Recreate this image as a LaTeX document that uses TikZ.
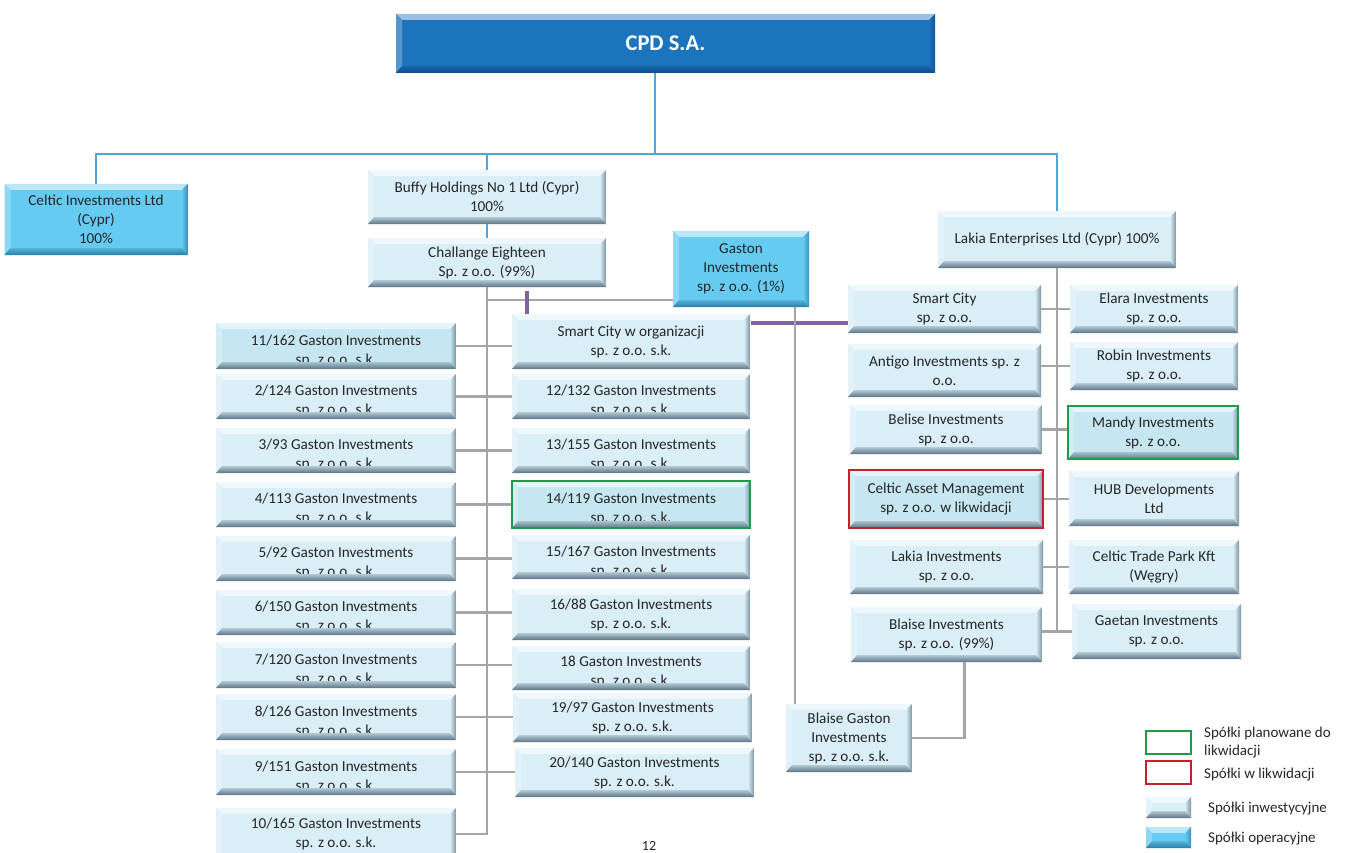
\documentclass[tikz,border=0pt]{standalone}
\usepackage{fontspec}
\setmainfont{Carlito}
\usetikzlibrary{calc}
\definecolor{ifill}{HTML}{D9EEF6}
\definecolor{ifillb}{HTML}{C6E7F2}
\definecolor{idark}{HTML}{5A7585}
\definecolor{ofill}{HTML}{66CBF1}
\definecolor{odark}{HTML}{2A7DA8}
\definecolor{cfill}{HTML}{1C75BC}
\definecolor{cdark}{HTML}{0D4A85}
\definecolor{bline}{HTML}{4FA6DC}
\definecolor{gline}{HTML}{A5A5A5}
\definecolor{pline}{HTML}{8064A2}
\definecolor{gborder}{HTML}{1E9A48}
\definecolor{rborder}{HTML}{C8202A}
\newcommand\bvw{6pt}
\newcommand\bvb{7pt}
\newcommand\bevel[2]{%
 \coordinate (pa) at (path picture bounding box.south west);
 \coordinate (pb) at (path picture bounding box.north east);
 \coordinate (pc) at (path picture bounding box.north west);
 \coordinate (pd) at (path picture bounding box.south east);
 \fill[white!55!#1] (pc) -- (pb) -- ($(pb)+(-\bvw,-\bvw)$) -- ($(pc)+(\bvw,-\bvw)$) -- cycle;
 \fill[white!25!#1] (pc) -- ($(pc)+(\bvw,-\bvw)$) -- ($(pa)+(\bvw,\bvb)$) -- (pa) -- cycle;
 \shade[left color=#1, right color=#2!75!#1] (pb) -- (pd) -- ($(pd)+(-\bvw,\bvb)$) -- ($(pb)+(-\bvw,-\bvw)$) -- cycle;
 \shade[top color=#1!70!#2, bottom color=#2] (pa) -- (pd) -- ($(pd)+(-\bvw,\bvb)$) -- ($(pa)+(\bvw,\bvb)$) -- cycle;
}
\newcommand\boxfont{\fontsize{15.2}{19}\selectfont}
\tikzset{
 box/.style={rectangle, inner sep=0pt, align=center, font=\boxfont, text=black!85},
 ibox/.style={box, fill=#1, path picture={\bevel{#1}{idark}}},
 ibox/.default=ifill,
 obox/.style={box, fill=ofill, path picture={\bevel{ofill}{odark}}},
 cbox/.style={box, fill=cfill, text=white, font=\fontsize{22.5}{26}\selectfont\bfseries, path picture={\bevel{cfill}{cdark}}},
 cut/.style 2 args={box, fill=#1, path picture={%
   \node[align=center, font=\boxfont, text=black!85, inner sep=0pt] at ($(path picture bounding box.center)+(0,-4.5pt)$) {#2};
   \bevel{#1}{idark}}},
 wh/.style 2 args={minimum width=#1pt, minimum height=#2pt},
 gb/.style={draw=gborder, line width=1.5pt},
 rb/.style={draw=rborder, line width=1.5pt},
 bl/.style={draw=bline, line width=2.8pt},
 gl/.style={draw=gline, line width=2.8pt},
 pl/.style={draw=pline, line width=4pt},
 legt/.style={anchor=west, align=left, font=\fontsize{15}{18}\selectfont, text=black!85, inner sep=0pt}
}
\begin{document}
\begin{tikzpicture}[x=1pt, y=-1pt]
\useasboundingbox (0,0) rectangle (1348,853);
% top
\node[cbox, wh={539}{59}] (cpd) at (665.5,43.5) {CPD S.A.};
\node[obox, wh={183}{71}] (celtic) at (96,219.5) {Celtic Investments Ltd\\(Cypr)\\100\%};
\node[ibox, wh={238}{54}] (buffy) at (487,197) {Buffy Holdings No 1 Ltd (Cypr)\\100\%};
\node[ibox, wh={238}{49}] (ch) at (487,262.5) {Challange Eighteen\\Sp. z o.o. (99\%)};
\node[obox, wh={136}{76}] (gaston) at (741,269) {Gaston\\Investments\\sp. z o.o. (1\%)};
\node[ibox, wh={238}{57}] (lakia) at (1057,239.5) {Lakia Enterprises Ltd (Cypr) 100\%};
% left column
\node[cut={ifillb}{11/162 Gaston Investments\\sp. z o.o. s.k.}, wh={240}{46}] (l11) at (336,346) {};
\node[cut={ifill}{2/124 Gaston Investments\\sp. z o.o. s.k.}, wh={240}{45}] (l2) at (336,396.5) {};
\node[cut={ifill}{3/93 Gaston Investments\\sp. z o.o. s.k.}, wh={240}{45}] (l3) at (336,450.5) {};
\node[cut={ifill}{4/113 Gaston Investments\\sp. z o.o. s.k.}, wh={240}{45}] (l4) at (336,504.5) {};
\node[cut={ifill}{5/92 Gaston Investments\\sp. z o.o. s.k.}, wh={240}{45}] (l5) at (336,558.5) {};
\node[cut={ifill}{6/150 Gaston Investments\\sp. z o.o. s.k.}, wh={240}{45}] (l6) at (336,612.5) {};
\node[cut={ifill}{7/120 Gaston Investments\\sp. z o.o. s.k.}, wh={240}{46}] (l7) at (336,665) {};
\node[cut={ifill}{8/126 Gaston Investments\\sp. z o.o. s.k.}, wh={240}{46}] (l8) at (336,717) {};
\node[cut={ifill}{9/151 Gaston Investments\\sp. z o.o. s.k.}, wh={240}{46}] (l9) at (336,772) {};
\node[ibox, wh={240}{52}] (l10) at (336,834) {10/165 Gaston Investments\\sp. z o.o. s.k.};
% right column
\node[ibox, wh={238}{55}] (r0) at (631,341.5) {Smart City w organizacji\\sp. z o.o. s.k.};
\node[cut={ifill}{12/132 Gaston Investments\\sp. z o.o. s.k.}, wh={238}{45}] (r12) at (631,396.5) {};
\node[cut={ifill}{13/155 Gaston Investments\\sp. z o.o. s.k.}, wh={238}{45}] (r13) at (631,450.5) {};
\node[cut={ifillb}{14/119 Gaston Investments\\sp. z o.o. s.k.}, gb, wh={238}{47}] (r14) at (631,504.5) {};
\node[cut={ifill}{15/167 Gaston Investments\\sp. z o.o. s.k.}, wh={238}{44}] (r15) at (631,557) {};
\node[ibox, wh={238}{51}] (r16) at (631,614.5) {16/88 Gaston Investments\\sp. z o.o. s.k.};
\node[cut={ifill}{18 Gaston Investments\\sp. z o.o. s.k.}, wh={238}{44}] (r18) at (631,668) {};
\node[ibox, wh={239}{49}] (r19) at (632.5,717.5) {19/97 Gaston Investments\\sp. z o.o. s.k.};
\node[ibox, wh={239}{49}] (r20) at (634.5,772.5) {20/140 Gaston Investments\\sp. z o.o. s.k.};
% Lakia group
\node[ibox, wh={193}{48}] (sc) at (944.5,309) {Smart City\\sp. z o.o.};
\node[ibox, wh={193}{53}] (an) at (944.5,370.5) {Antigo Investments sp. z\\o.o.};
\node[ibox, wh={192}{49}] (be) at (946,429.5) {Belise Investments\\sp. z o.o.};
\node[ibox=ifillb, rb, wh={194}{58}] (cam) at (946,499) {Celtic Asset Management\\sp. z o.o. w likwidacji};
\node[ibox, wh={193}{54}] (li) at (946.5,567) {Lakia Investments\\sp. z o.o.};
\node[ibox, wh={191}{55}] (bi) at (946.5,634.5) {Blaise Investments\\sp. z o.o. (99\%)};
\node[ibox, wh={168}{48}] (el) at (1154,309) {Elara Investments\\sp. z o.o.};
\node[ibox, wh={168}{48}] (ro) at (1154,366) {Robin Investments\\sp. z o.o.};
\node[ibox=ifillb, gb, wh={170}{53}] (ma) at (1153,432.5) {Mandy Investments\\sp. z o.o.};
\node[ibox, wh={170}{55}] (hub) at (1154,498.5) {HUB Developments\\Ltd};
\node[ibox, wh={170}{54}] (ctp) at (1154,567) {Celtic Trade Park Kft\\(Węgry)};
\node[ibox, wh={169}{55}] (ga) at (1156.5,631.5) {Gaetan Investments\\sp. z o.o.};
\node[ibox, wh={126}{68}] (bg) at (849,738) {Blaise Gaston\\Investments\\sp. z o.o. s.k.};
% blue connectors
\coordinate (hb) at (655,154);
\draw[bl] (cpd.south -| hb) -- (hb);
\draw[bl] (celtic.north) |- (lakia.north |- hb) -- (lakia.north);
\draw[bl] (buffy.north |- hb) -- (buffy.north);
\draw[bl] (buffy.south) -- (ch.north);
% grey trunk left
\draw[gl] (ch.south) -- (ch.south |- l10.east) -- (l10.east);
\coordinate (gj) at (673,300);
\draw[gl] (ch.south |- gj) -- (gj);
\foreach \a/\b in {l11/r0,l2/r12,l3/r13,l4/r14,l5/r15,l6/r16,l7/r18,l8/r19,l9/r20}
  \draw[gl] (\a.east) -- (\a.east -| \b.west);
% purple
\coordinate (pj) at (527,291);
\draw[pl] (pj) -- (pj |- r0.north);
\coordinate (pk) at (751,323);
\draw[pl] (pk) -- (pk -| sc.west);
% gaston to blaise gaston
\coordinate (gd) at (795,307);
\draw[gl] (gd) -- (gd |- bg.north);
\draw[gl] ($(bi.south)+(18pt,0)$) |- (bg.east);
% lakia trunk
\draw[gl] (lakia.south) -- (lakia.south |- ga.west);
\draw[gl] (sc.east) -- (el.west);
\draw[gl] (ro.west -| an.east) -- (ro.west);
\draw[gl] (be.east) -- (be.east -| ma.west);
\draw[gl] (cam.east) -- (cam.east -| hub.west);
\draw[gl] (li.east) -- (ctp.west);
\draw[gl] (ga.west -| bi.east) -- (ga.west);
% legend
\node[draw=gborder, line width=1.5pt, minimum width=45pt, minimum height=23pt, inner sep=0pt] (lg1) at (1168.5,742.5) {};
\node[draw=rborder, line width=1.5pt, minimum width=45pt, minimum height=23pt, inner sep=0pt] (lg2) at (1168.5,772.5) {};
\node[ibox, wh={45}{21}] (lg3) at (1168.5,807.5) {};
\node[obox, wh={45}{21}] (lg4) at (1168.5,837.5) {};
\node[legt] (lt1) at (1204,743) {Spółki planowane do\\likwidacji};
\node[legt] (lt2) at (1204,775) {Spółki w likwidacji};
\node[legt] (lt3) at (1208,809) {Spółki inwestycyjne};
\node[legt] (lt4) at (1208,839) {Spółki operacyjne};
\node[font=\fontsize{14}{16}\selectfont, text=black!85, inner sep=0pt] (pg) at (649,846) {12};
\end{tikzpicture}
\end{document}
